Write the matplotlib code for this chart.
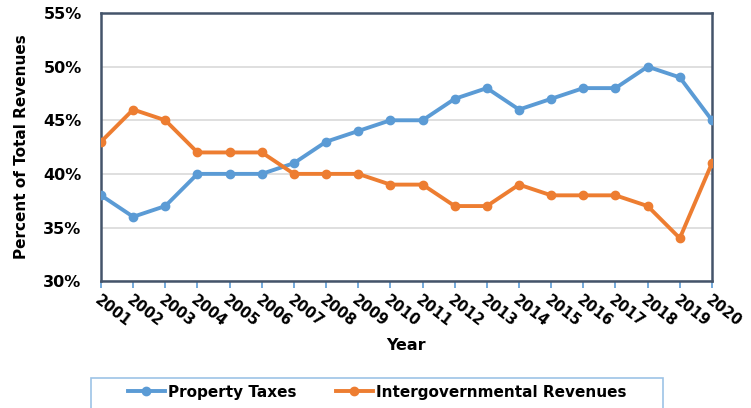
import matplotlib
matplotlib.use("Agg")
import matplotlib.pyplot as plt
from matplotlib.patches import Rectangle
from matplotlib.ticker import PercentFormatter

years = list(range(2001, 2021))
property_taxes = [38, 36, 37, 40, 40, 40, 41, 43, 44, 45, 45, 47, 48, 46, 47, 48, 48, 50, 49, 45]
intergov = [43, 46, 45, 42, 42, 42, 40, 40, 40, 39, 39, 37, 37, 39, 38, 38, 38, 37, 34, 41]

blue = "#5B9BD5"
orange = "#ED7D31"

fig = plt.figure(figsize=(7.51, 4.08), dpi=100)
ax = fig.add_axes([0.1345, 0.311, 0.8135, 0.657])

ax.plot(years, property_taxes, color=blue, lw=2.8, marker="o", ms=6, label="Property Taxes", zorder=3)
ax.plot(years, intergov, color=orange, lw=2.8, marker="o", ms=6, label="Intergovernmental Revenues", zorder=3)

ax.set_xlim(2001, 2020)
ax.set_ylim(30, 55)
ax.set_yticks(range(30, 56, 5))
ax.yaxis.set_major_formatter(PercentFormatter(decimals=0))
ax.set_xticks(years)
ax.set_xticklabels([str(y) for y in years], rotation=-38, ha="left", va="top",
                   rotation_mode="anchor", fontsize=10.5, fontweight="bold")
for lbl in ax.get_yticklabels():
    lbl.set_fontweight("bold")
    lbl.set_fontsize(11.5)

ax.grid(axis="y", color="#D9D9D9", lw=1.2, zorder=0)
for s in ax.spines.values():
    s.set_color("#44546A")
    s.set_linewidth(1.8)

ax.tick_params(axis="y", length=0, pad=14)
ax.tick_params(axis="x", length=5, width=1.2, color=blue, direction="out", pad=3)

ax.set_ylabel("Percent of Total Revenues", fontsize=11, fontweight="bold", labelpad=10)
ax.set_xlabel("Year", fontsize=11.5, fontweight="bold", labelpad=6)

# legend frame clipped at bottom edge like the original
fig.patches.append(Rectangle((91 / 751, -0.02), (663 - 91) / 751, 0.0735 + 0.02,
                             transform=fig.transFigure, fill=False,
                             edgecolor="#9DC3E6", lw=1.2))
leg = fig.legend(loc="center", bbox_to_anchor=(0.502, 0.039), ncol=2, frameon=False,
                 prop={"weight": "bold", "size": 11}, columnspacing=2.6,
                 handlelength=2.4, handletextpad=0.2)

fig.savefig("out.png", dpi=100)
